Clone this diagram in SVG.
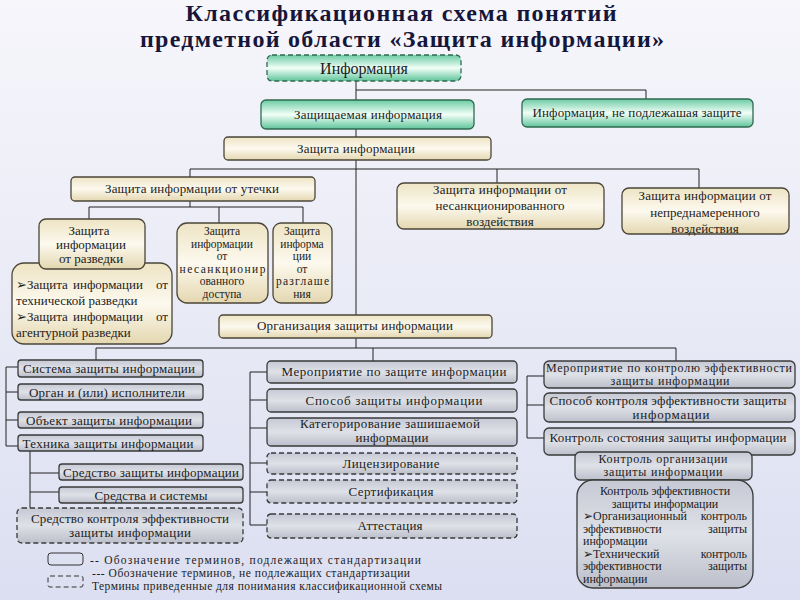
<svg xmlns="http://www.w3.org/2000/svg" width="800" height="600" viewBox="0 0 800 600">
<defs>
<linearGradient id="bg" x1="0" y1="0" x2="0" y2="1"><stop offset="0" stop-color="#f6f6fb"/><stop offset="1" stop-color="#dcdff1"/></linearGradient>
<linearGradient id="gg" x1="0" y1="0" x2="0" y2="1"><stop offset="0" stop-color="#6ccba3"/><stop offset="0.5" stop-color="#f2fff8"/><stop offset="1" stop-color="#5fc49a"/></linearGradient>
<linearGradient id="bg2" x1="0" y1="0" x2="0" y2="1"><stop offset="0" stop-color="#eee4c4"/><stop offset="0.5" stop-color="#fcf9ee"/><stop offset="1" stop-color="#e4d7b0"/></linearGradient>
<linearGradient id="sg" x1="0" y1="0" x2="0" y2="1"><stop offset="0" stop-color="#c6c9d4"/><stop offset="0.5" stop-color="#dfe1e8"/><stop offset="1" stop-color="#bcbfca"/></linearGradient>
</defs>
<style>
.g{fill:url(#gg);stroke:#2f6a52;stroke-width:1.3}
.b{fill:url(#bg2);stroke:#4a4538;stroke-width:1.3}
.s{fill:url(#sg);stroke:#3a3a3a;stroke-width:1.3}
.d{stroke-dasharray:5,3}
text{font-family:"Liberation Serif","DejaVu Serif",serif;font-size:13px;fill:#1c1c1c;text-anchor:middle}
.l{text-anchor:start}
.r{text-anchor:end}
.sm{font-size:11.5px}
.m{font-size:12px}
.big{font-size:16px}
.t{font-size:24px;font-weight:bold;fill:#16163a}
.c path{fill:none;stroke:#222;stroke-width:1}
.lg{font-size:11.5px;text-anchor:start}
</style>
<rect width="800" height="600" fill="url(#bg)"/>
<g id="title">
<text class="t" x="401" y="21" textLength="431">Классификационная схема понятий</text>
<text class="t" x="402" y="47" textLength="524">предметной области «Защита информации»</text>
</g>
<g class="c" id="connectors">
<path d="M356,81V100M356,90H646V99M356,129V137M356,160V315M190,169H699M190,169V177M497,169V183M699,169V188"/>
<path d="M190,201V207M89,207H303M89,207V219M219,207V223M303,207V223"/>
<path d="M356,338V348M96,348H676M96,348V360M373,348V361M676,348V361"/>
<path d="M18,367H6V446H18M6,392H18M6,420H18"/>
<path d="M30,451V508M30,473H59M30,492H59"/>
<path d="M267,372H250V525H267M250,400H267M250,428H267M250,463H267M250,492H267"/>
<path d="M544,376H527V438H544M527,405H544"/>
</g>
<g id="n-info"><rect class="g d" x="267" y="55" width="194" height="26" rx="5"/><text class="big" x="364" y="73.5">Информация</text></g>
<g id="n-prot"><rect class="g" x="261" y="100" width="213" height="29" rx="5"/><text x="368" y="119" textLength="148">Защищаемая информация</text></g>
<g id="n-notprot"><rect class="g" x="522" y="99" width="231" height="28" rx="5"/><text x="637" y="117" textLength="209">Информация, не подлежашая защите</text></g>
<g id="n-zi"><rect class="b" x="224" y="137" width="267" height="23" rx="4"/><text x="356" y="153" textLength="118">Защита информации</text></g>
<g id="n-leak"><rect class="b" x="71" y="177" width="244" height="24" rx="4"/><text x="192" y="193" textLength="174">Защита информации от утечки</text></g>
<g id="n-unauth"><rect class="b" x="397" y="183" width="207" height="46" rx="7"/>
<text x="500" y="194" textLength="134">Защита информации от</text><text x="500" y="210">несанкционированного</text><text x="500" y="226">воздействия</text></g>
<g id="n-unint"><rect class="b" x="622" y="188" width="167" height="46" rx="7"/>
<text x="705" y="200" textLength="133">Защита информации от</text><text x="705" y="217">непреднамеренного</text><text x="705" y="233">воздействия</text></g>
<g id="n-bullets"><rect class="b" x="12" y="263" width="160" height="81" rx="12"/>
<text class="l" x="16" y="289">➢Защита</text><text x="108" y="289">информации</text><text class="r" x="168" y="289">от</text>
<text class="l" x="16" y="305">технической разведки</text>
<text class="l" x="16" y="321">➢Защита</text><text x="108" y="321">информации</text><text class="r" x="168" y="321">от</text>
<text class="l" x="16" y="337">агентурной разведки</text></g>
<g id="n-razv"><rect class="b" x="39" y="219" width="106" height="50" rx="7"/>
<text x="89" y="235">Защита</text><text x="91" y="249">информации</text><text x="91" y="263">от разведки</text></g>
<g id="n-nsd"><rect class="b" x="177" y="223" width="91" height="80" rx="10"/>
<text class="sm" x="222" y="235">Защита</text><text class="sm" x="222" y="247.5">информации</text><text class="sm" x="222" y="260">от</text><text class="sm" x="222.5" y="272.5" textLength="86">несанкционир</text><text class="sm" x="222" y="285">ованного</text><text class="sm" x="222" y="297.5">доступа</text></g>
<g id="n-razgl"><rect class="b" x="273" y="223" width="59" height="80" rx="8"/>
<text class="sm" x="302" y="235">Защита</text><text class="sm" x="302" y="247.5">информа</text><text class="sm" x="302" y="260">ции</text><text class="sm" x="302" y="272.5">от</text><text class="sm" x="302.5" y="285" textLength="53">разглаше</text><text class="sm" x="302" y="297.5">ния</text></g>
<g id="n-org"><rect class="b" x="219" y="315" width="273" height="23" rx="4"/><text x="355" y="330" textLength="196">Организация защиты информации</text></g>
<g id="n-sys"><rect class="s" x="18" y="360" width="185" height="17" rx="3"/><text x="109" y="373" textLength="172">Система защиты информации</text></g>
<g id="n-organ"><rect class="s" x="18" y="384" width="185" height="16" rx="3"/><text x="107" y="397" textLength="156">Орган и (или) исполнители</text></g>
<g id="n-obj"><rect class="s" x="18" y="412" width="185" height="16" rx="3"/><text x="109" y="425" textLength="166">Объект защиты информации</text></g>
<g id="n-tech"><rect class="s" x="18" y="435" width="185" height="16" rx="3"/><text x="108" y="448" textLength="171">Техника защиты информации</text></g>
<g id="n-sredz"><rect class="s" x="59" y="464" width="184" height="16" rx="3"/><text x="151" y="477" textLength="176">Средство защиты информации</text></g>
<g id="n-sreds"><rect class="s" x="59" y="487" width="184" height="16" rx="3"/><text x="151" y="500" textLength="113">Средства и системы</text></g>
<g id="n-sredk"><rect class="s d" x="17" y="508" width="226" height="35" rx="5"/><text x="130" y="523" textLength="198">Средство контроля эффективности</text><text x="130" y="537" textLength="122">защиты информации</text></g>
<g id="n-mer"><rect class="s" x="267" y="361" width="250" height="22" rx="4"/><text x="394" y="376" textLength="225">Мероприятие по  защите информации</text></g>
<g id="n-sposob"><rect class="s" x="267" y="389" width="250" height="23" rx="4"/><text x="394" y="405" textLength="177">Способ  защиты информации</text></g>
<g id="n-kat"><rect class="s" x="267" y="418" width="250" height="28" rx="4"/><text x="390" y="428" textLength="180">Категорирование   зашишаемой</text><text x="392" y="442" textLength="73">информации</text></g>
<g id="n-lic"><rect class="s d" x="267" y="453" width="250" height="21" rx="4"/><text x="391" y="468" textLength="97">Лицензирование</text></g>
<g id="n-sert"><rect class="s d" x="267" y="480" width="250" height="23" rx="4"/><text x="391" y="496" textLength="85">Сертификация</text></g>
<g id="n-att"><rect class="s d" x="267" y="514" width="250" height="24" rx="4"/><text x="390" y="530" textLength="65">Аттестация</text></g>
<g id="n-merk"><rect class="s" x="544" y="361" width="251" height="27" rx="5"/><text class="m" x="669" y="372" textLength="246">Мероприятие по контролю эффективности</text><text class="m" x="670" y="385" textLength="119">защиты информации</text></g>
<g id="n-sposk"><rect class="s" x="544" y="393" width="251" height="29" rx="5"/><text x="668" y="405" textLength="237">Способ контроля эффективности  защиты</text><text x="671" y="419" textLength="77">информации</text></g>
<g id="n-kontsost"><rect class="s" x="544" y="428" width="251" height="27" rx="5"/><text x="668" y="442" textLength="237">Контроль состояния защиты информации</text></g>
<g id="n-kontorg"><rect class="s" x="575" y="452" width="177" height="28" rx="5"/><text class="m" x="663" y="463" textLength="129">Контроль организации</text><text class="m" x="663" y="476" textLength="119">защиты информации</text></g>
<g id="n-konteff"><rect class="s" x="577" y="480" width="176" height="108" rx="16"/>
<text class="m" x="665" y="495">Контроль эффективности</text><text class="m" x="665" y="507.5">защиты информации</text>
<text class="m l" x="583" y="520">➢Организационный</text><text class="m r" x="747" y="520">контроль</text>
<text class="m l" x="583" y="532.5">эффективности</text><text class="m r" x="747" y="532.5">защиты</text>
<text class="m l" x="583" y="545">информации</text>
<text class="m l" x="583" y="557.5">➢Технический</text><text class="m r" x="747" y="557.5">контроль</text>
<text class="m l" x="583" y="570">эффективности</text><text class="m r" x="747" y="570">защиты</text>
<text class="m l" x="583" y="582.5">информации</text></g>
<g id="legend">
<rect x="48" y="553" width="35" height="12" rx="3" fill="none" stroke="#333" stroke-width="1"/>
<rect x="48" y="576" width="35" height="11" rx="2" fill="none" stroke="#333" stroke-width="1" stroke-dasharray="5,3"/>
<text class="lg" x="90" y="564" textLength="331">--  Обозначение терминов, подлежащих стандартизации</text>
<text class="lg" x="92" y="577" textLength="318">--- Обозначение терминов, не подлежащих стандартизации</text>
<text class="lg" x="92" y="590" textLength="350">Термины приведенные для понимания классификационной схемы</text>
</g>
</svg>
